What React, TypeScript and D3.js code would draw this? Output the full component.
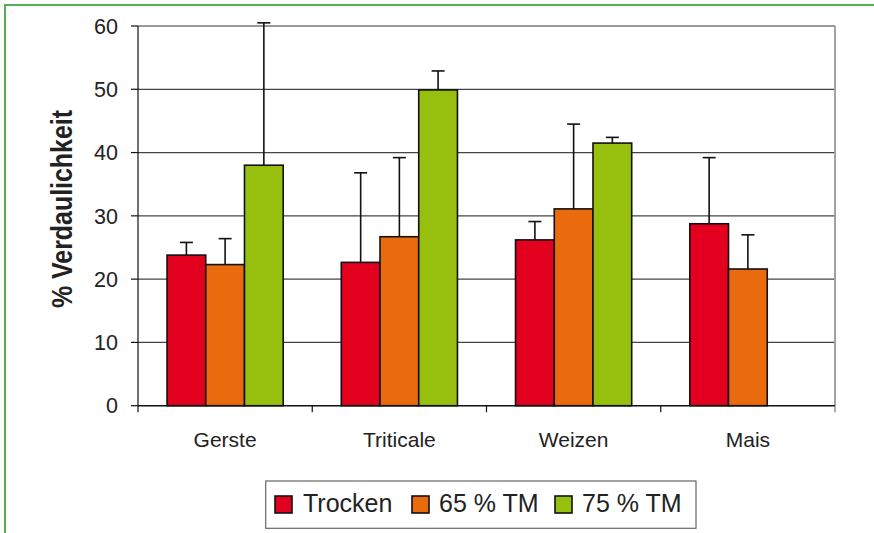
import React from "react";
import * as d3 from "d3";

const categories = ["Gerste", "Triticale", "Weizen", "Mais"];
const seriesNames = ["Trocken", "65 % TM", "75 % TM"];
const trocken = [23.8, 22.65, 26.2, 28.75];
const tm65 = [22.3, 26.7, 31.1, 21.6];
const tm75: (number | null)[] = [38.0, 49.9, 41.5, null];
const errTrocken = [2.0, 14.15, 2.9, 10.45];
const errTm65 = [4.1, 12.5, 13.4, 5.4];
const errTm75: (number | null)[] = [22.5, 3.0, 0.9, null];
const yTicks = [0, 10, 20, 30, 40, 50, 60];
const colors = ["#E2001E", "#EA6A0E", "#97BF0E"];

const W = 874;
const H = 533;
const left = 138;
const right = 835;
const top = 26;
const bottom = 405.7;

export default function App() {
  const values = [trocken, tm65, tm75];
  const errs = [errTrocken, errTm65, errTm75];
  const x0 = d3.scaleBand<string>().domain(categories).range([left, right]).padding(0);
  const x1 = d3
    .scaleBand<string>()
    .domain(seriesNames)
    .range([0, x0.bandwidth()])
    .paddingInner(0)
    .paddingOuter(0.75);
  const y = d3.scaleLinear().domain([0, 60]).range([bottom, top]);
  const font = "Liberation Sans, Arial, Helvetica, sans-serif";

  const bars: React.ReactNode[] = [];
  const errBars: React.ReactNode[] = [];
  categories.forEach((c, ci) => {
    seriesNames.forEach((s, si) => {
      const v = values[si][ci];
      if (v == null) return;
      const bx = (x0(c) as number) + (x1(s) as number);
      const bw = x1.bandwidth();
      bars.push(
        <rect
          key={`b-${ci}-${si}`}
          x={bx}
          y={y(v)}
          width={bw}
          height={y(0) - y(v)}
          fill={colors[si]}
          stroke="#111"
          strokeWidth={1.6}
        />
      );
      const e = errs[si][ci];
      if (e != null) {
        const cx = bx + bw / 2;
        errBars.push(
          <g key={`e-${ci}-${si}`} stroke="#111" strokeWidth={1.6}>
            <line x1={cx} x2={cx} y1={y(v)} y2={y(v + e)} />
            <line x1={cx - 6.5} x2={cx + 6.5} y1={y(v + e)} y2={y(v + e)} />
          </g>
        );
      }
    });
  });

  const legendItems = [
    { sx: 275, tx: 303 },
    { sx: 412, tx: 439 },
    { sx: 555, tx: 582 },
  ];

  return (
    <svg
      width={W}
      height={H}
      style={{ position: "absolute", left: 0, top: 0, background: "#fff" }}
    >
      <rect x={0} y={0} width={W} height={H} fill="#fff" />
      {/* outer green frame */}
      <rect x={5} y={5} width={W + 20} height={H + 20} fill="none" stroke="#58AE55" strokeWidth={2} />

      {/* gridlines */}
      {yTicks
        .filter((t) => t > 0 && t < 60)
        .map((t) => (
          <line key={`g${t}`} x1={left} x2={right} y1={y(t)} y2={y(t)} stroke="#444" strokeWidth={1.2} />
        ))}
      {/* plot frame top and right */}
      <line x1={left} x2={right} y1={y(60)} y2={y(60)} stroke="#999" strokeWidth={1.8} />
      <line x1={right} x2={right} y1={y(60)} y2={bottom} stroke="#999" strokeWidth={1.8} />

      {bars}
      {errBars}

      {/* axes */}
      <line x1={left} x2={left} y1={y(60)} y2={bottom + 6.5} stroke="#111" strokeWidth={1.2} />
      <line x1={left} x2={right} y1={bottom} y2={bottom} stroke="#111" strokeWidth={1.6} />
      {yTicks.map((t) => (
        <g key={`yt${t}`}>
          <line x1={left - 7} x2={left} y1={y(t)} y2={y(t)} stroke="#111" strokeWidth={1.2} />
          <text
            x={118}
            y={y(t)}
            dy="0.36em"
            textAnchor="end"
            fontFamily={font}
            fontSize={21.5}
            fill="#222"
          >
            {t}
          </text>
        </g>
      ))}
      {categories.map((c, i) => (
        <line
          key={`xt${i}`}
          x1={(x0(c) as number) + x0.bandwidth()}
          x2={(x0(c) as number) + x0.bandwidth()}
          y1={bottom}
          y2={bottom + 6.5}
          stroke={i === categories.length - 1 ? "#777" : "#111"}
          strokeWidth={1.2}
        />
      ))}
      {categories.map((c) => (
        <text
          key={`xl${c}`}
          x={(x0(c) as number) + x0.bandwidth() / 2}
          y={447.3}
          textAnchor="middle"
          fontFamily={font}
          fontSize={21}
          fill="#222"
        >
          {c}
        </text>
      ))}

      {/* y title */}
      <text
        transform={`translate(71.5, 209) rotate(-90)`}
        textAnchor="middle"
        fontFamily={font}
        fontWeight="bold"
        fontSize={29}
        textLength={198}
        lengthAdjust="spacingAndGlyphs"
        fill="#222"
      >
        % Verdaulichkeit
      </text>

      {/* legend */}
      <rect x={265.7} y={481} width={430.3} height={47.3} fill="#fff" stroke="#666" strokeWidth={1.2} />
      {seriesNames.map((s, i) => (
        <g key={`lg${i}`}>
          <rect
            x={legendItems[i].sx}
            y={496}
            width={17}
            height={17}
            fill={colors[i]}
            stroke="#111"
            strokeWidth={1.6}
          />
          <text x={legendItems[i].tx} y={512.3} fontFamily={font} fontSize={25} fill="#222">
            {s}
          </text>
        </g>
      ))}
    </svg>
  );
}
